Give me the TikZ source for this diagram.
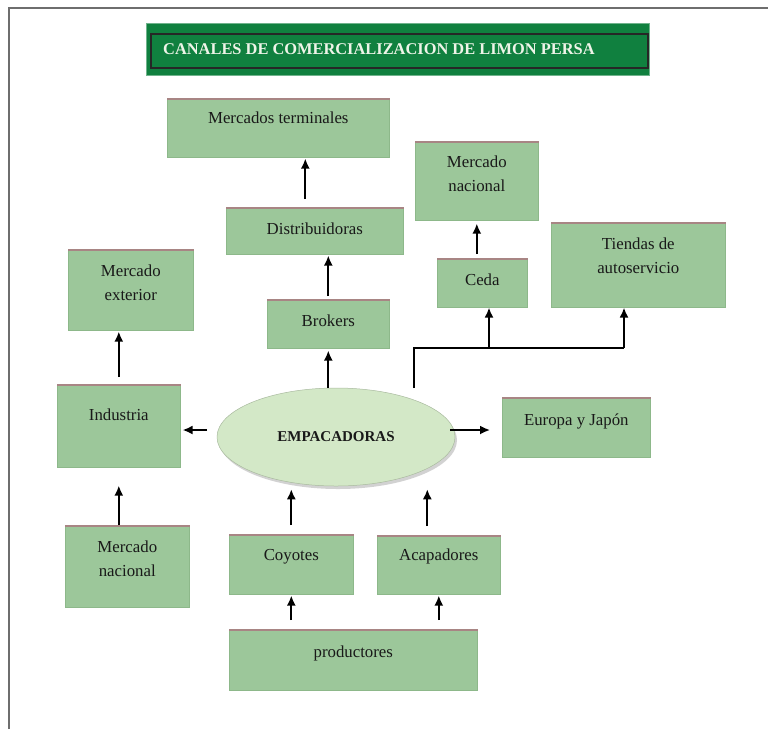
\documentclass[tikz,border=0pt]{standalone}
\usepackage{fontspec}
\setmainfont{Liberation Serif}
\usetikzlibrary{arrows.meta,shapes.geometric,shadows}
\definecolor{boxgreen}{HTML}{9CC79A}
\definecolor{boxedge}{HTML}{8DB88A}
\definecolor{topedge}{HTML}{A88584}
\definecolor{ellgreen}{HTML}{D3E8C7}
\definecolor{titlegreen}{HTML}{10803F}
\definecolor{titletext}{HTML}{EEF4E8}
\definecolor{framegray}{HTML}{6E6E6E}
\newcommand\gbox[7]{%
  \node[gbox, minimum width={(#4-#2)*1pt}, minimum height={(#5-#3)*1pt}, anchor=north west] (#1) at (#2,#3) {};
  \draw[topline] (#1.north west) -- (#1.north east);
  \node[boxtxt, anchor=north] at ([yshift=-#6pt]#1.north) {#7};
}
\begin{document}
\begin{tikzpicture}[x=1pt,y=-1pt,
  gbox/.style={rectangle, fill=boxgreen, draw=boxedge, line width=0.6pt, inner sep=0pt},
  topline/.style={draw=topedge, line width=2pt},
  boxtxt/.style={inner sep=0pt, align=center, font=\fontsize{16.8}{23.5}\selectfont, text=black!90},
  arr/.style={-{Latex[length=10pt,width=9pt]}, line width=1.8pt, draw=black},
  conn/.style={line width=1.6pt, draw=black}]
\useasboundingbox (0,0) rectangle (768,729);
% frame
\draw[framegray, line width=1.6pt] (9,729) -- (9,8) -- (768,8);
% title
\node[rectangle, fill=titlegreen, draw=titlegreen!60!white, line width=0.8pt, minimum width=503pt, minimum height=52pt, anchor=north west, inner sep=0pt] (tout) at (146,23) {};
\node[rectangle, draw=black!85, line width=1.5pt, minimum width=497pt, minimum height=34pt, anchor=north west, inner sep=0pt] (tin) at (150,33) {};
\node[anchor=west, inner sep=0pt, text=titletext, font=\fontsize{16.4}{18}\selectfont\bfseries] (ttxt) at (163,49) {CANALES DE COMERCIALIZACION DE LIMON PERSA};
% boxes
\gbox{mt}{167}{99}{389}{157}{13}{Mercados terminales}
\gbox{dis}{226}{208}{403}{254}{15}{Distribuidoras}
\gbox{bro}{267}{300}{389}{348}{15}{Brokers}
\gbox{mnt}{415}{142}{538}{220}{14}{Mercado\\nacional}
\gbox{ceda}{437}{259}{527}{307}{15}{Ceda}
\gbox{tie}{551}{223}{725}{307}{15}{Tiendas de\\autoservicio}
\gbox{mext}{68}{250}{193}{330}{15}{Mercado\\exterior}
\gbox{ind}{57}{385}{180}{467}{24}{Industria}
\gbox{eur}{502}{398}{650}{457}{16}{Europa y Japón}
\gbox{mnb}{65}{526}{189}{607}{15}{Mercado\\nacional}
\gbox{coy}{229}{535}{353}{594}{14}{Coyotes}
\gbox{aca}{377}{536}{500}{594}{13}{Acapadores}
\gbox{prod}{229}{630}{477}{690}{16}{productores}
% ellipse
\node[ellipse, fill=ellgreen, draw=ellgreen!80!black, line width=0.5pt, minimum width=238pt, minimum height=98pt, inner sep=0pt,
  drop shadow={shadow xshift=2pt, shadow yshift=-3pt, fill=black!35},
  font=\fontsize{15}{17}\selectfont\bfseries, text=black!90] (emp) at (336,437) {EMPACADORAS};
% arrows
\draw[arr, shorten <=9pt, shorten >=1pt] ([xshift=-9.5pt]dis.north) -- ([xshift=-9.5pt]dis.north |- mt.south);
\draw[arr, shorten <=4pt, shorten >=1pt] (bro.north) -- (bro.north |- dis.south);
\draw[arr, shorten >=2pt] (bro.south |- emp.north) -- (bro.south);
\draw[arr, shorten <=5pt, shorten >=3pt] (mnt.south |- ceda.north) -- (mnt.south);
\coordinate (j0) at (414,388);
\coordinate (j1) at (414,348);
\coordinate (j2) at (489,348);
\coordinate (j3) at (624,348);
\draw[conn] (j0) -- (j1) -- (j3);
\draw[arr] (j2) -- (ceda.south -| j2);
\draw[arr] (j3) -- (tie.south -| j3);
\draw[arr, shorten <=8pt, shorten >=1pt] (ind.north) -- (ind.north |- mext.south);
\coordinate (e0) at (207,430);
\draw[arr, shorten >=2pt] (e0) -- (ind.east |- e0);
\coordinate (e1) at (450,430);
\draw[arr, shorten >=12pt] (e1) -- (eur.west |- e1);
\draw[arr, shorten <=1pt, shorten >=18pt] (mnb.north -| ind.south) -- (ind.south);
\draw[arr, shorten <=10pt, shorten >=3pt] (coy.north) -- (coy.north |- emp.south);
\draw[arr, shorten <=10pt, shorten >=3pt] ([xshift=-11.5pt]aca.north) -- ([xshift=-11.5pt]aca.north |- emp.south);
\draw[arr, shorten <=10pt, shorten >=1pt] (prod.north -| coy.south) -- (coy.south);
\draw[arr, shorten <=10pt, shorten >=1pt] (prod.north -| aca.south) -- (aca.south);
\end{tikzpicture}
\end{document}
